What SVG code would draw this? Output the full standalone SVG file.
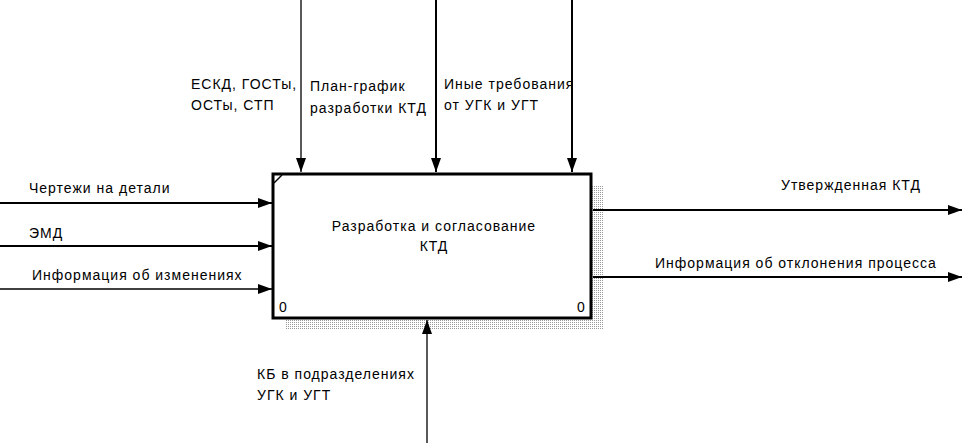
<svg xmlns="http://www.w3.org/2000/svg" width="975" height="443" viewBox="0 0 975 443">
<style>
text{font-family:"Liberation Sans",Arial,sans-serif;font-size:14px;letter-spacing:1px;fill:#000}
.ln{stroke:#000;stroke-width:2;fill:none}
.lt{stroke:#000;stroke-width:1.3;fill:none}
</style>
<defs>
<marker id="ah" markerUnits="userSpaceOnUse" markerWidth="14" markerHeight="10" refX="14" refY="5" orient="auto">
<path d="M0,0 L14,5 L0,10 Z" fill="#000"/>
</marker>
<pattern id="dots" width="2" height="2" patternUnits="userSpaceOnUse">
<rect width="2" height="2" fill="#fff"/>
<rect width="1" height="1" fill="#999"/>
</pattern>
</defs>
<rect width="975" height="443" fill="#fff"/>
<g id="node-main">
<rect x="285" y="186" width="318" height="144" fill="url(#dots)"/>
<rect x="273" y="174" width="318" height="144" fill="#fff" stroke="#000" stroke-width="3"/>
<path d="M274,183 L282,175" stroke="#000" stroke-width="1.5"/>
<text x="434" y="231" text-anchor="middle">Разработка и согласование</text>
<text x="434" y="251" text-anchor="middle">КТД</text>
<text x="279" y="312">0</text>
<text x="577" y="312">0</text>
</g>
<g id="connectors">
<path class="lt" d="M301,0 V172" marker-end="url(#ah)"/>
<path class="ln" d="M436,0 V172" marker-end="url(#ah)"/>
<path class="ln" d="M572,0 V172" marker-end="url(#ah)"/>
<path class="ln" d="M0,203 H272" marker-end="url(#ah)"/>
<path class="ln" d="M0,246 H272" marker-end="url(#ah)"/>
<path class="lt" d="M0,289 H272" marker-end="url(#ah)"/>
<path class="ln" d="M593,210 H962" marker-end="url(#ah)"/>
<path class="ln" d="M593,277 H962" marker-end="url(#ah)"/>
<path class="lt" d="M427,443 V320" marker-end="url(#ah)"/>
</g>
<g id="labels">
<text x="191" y="89">ЕСКД, ГОСТы,</text>
<text x="191" y="110">ОСТы, СТП</text>
<text x="310" y="91">План-график</text>
<text x="310" y="113">разработки КТД</text>
<text x="444" y="89">Иные требования</text>
<text x="444" y="110">от УГК и УГТ</text>
<text x="29" y="193">Чертежи на детали</text>
<text x="29" y="238">ЭМД</text>
<text x="32" y="280">Информация об изменениях</text>
<text x="781" y="190">Утвержденная КТД</text>
<text x="655" y="268">Информация об отклонения процесса</text>
<text x="257" y="379">КБ в подразделениях</text>
<text x="257" y="400">УГК и УГТ</text>
</g>
</svg>
